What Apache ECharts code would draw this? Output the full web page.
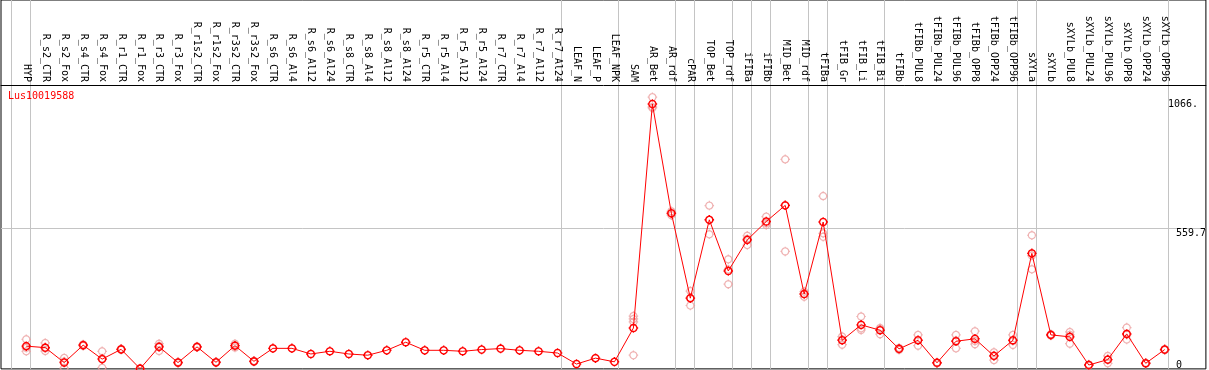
<!DOCTYPE html>
<html><head><meta charset="utf-8">
<script src="https://cdn.jsdelivr.net/npm/echarts@6/dist/echarts.min.js"></script>
<style>html,body{margin:0;padding:0;background:#fff}#c{width:1209px;height:370px}</style>
</head><body><div id="c"></div>
<script>
const geneName = 'Lus10019588';
const categories = ['HYP','R_s2_CTR','R_s2_Fox','R_s4_CTR','R_s4_Fox','R_r1_CTR','R_r1_Fox','R_r3_CTR','R_r3_Fox',
  'R_r1s2_CTR','R_r1s2_Fox','R_r3s2_CTR','R_r3s2_Fox','R_s6_CTR','R_s6_Al4','R_s6_Al12','R_s6_Al24',
  'R_s8_CTR','R_s8_Al4','R_s8_Al12','R_s8_Al24','R_r5_CTR','R_r5_Al4','R_r5_Al12','R_r5_Al24',
  'R_r7_CTR','R_r7_Al4','R_r7_Al12','R_r7_Al24','LEAF_N','LEAF_P','LEAF_NPK','SAM','AR_Bet','AR_rdf',
  'cPAR','TOP_Bet','TOP_rdf','iFIBa','iFIBb','MID_Bet','MID_rdf','tFIBa','tFIB_Gr','tFIB_Li','tFIB_Bi',
  'tFIBb','tFIBb_PUL8','tFIBb_PUL24','tFIBb_PUL96','tFIBb_OPP8','tFIBb_OPP24','tFIBb_OPP96',
  'sXYLa','sXYLb','sXYLb_PUL8','sXYLb_PUL24','sXYLb_PUL96','sXYLb_OPP8','sXYLb_OPP24','sXYLb_OPP96'];
const meanValues = [77,71,10,81,24,64,-15,74,10,74,11,79,15,68,68,45,56,45,40,60,93,60,60,56,63,67,60,56,49,
  4,28,13,151,1066,620,273,593,384,511,586,652,290,584,101,164,142,66,101,9,97,107,37,101,
  456,123,115,0,22,127,7,63];
const replicates = [
  [105,70,56],[90,68,57],[29,14,-13],[84,81,78],[56,27,-11],[66,64,62],[-13,-15,-15],[87,78,57],[12,10,8],
  [76,74,72],[13,11,9],[87,79,71],[17,15,13],[],[],[],[],[],[],[],[],[],[],[],[],[],[],[],[],
  [],[],[],[200,188,176,40],[1094,1054,1050],[628,618,612],[302,273,243],[651,593,534],[432,390,330],
  [528,515,490],[606,580,572],[840,652,464],[300,290,279],[690,538,524],[116,104,83],[198,150,143],
  [151,146,126],[70,66,62],[123,101,79],[11,9,7],[123,100,68],[138,98,85],[52,39,20],[123,98,82],
  [530,447,391],[126,123,120],[135,123,87],[2,0,-2],[37,22,7],[153,124,104],[9,7,5],[65,63,61]];
const groupEndsAfter = [-1,0,28,31,34,35,37,38,39,41,42,45,52,53,60];
const gridValue = 559.7;
const maxLabelValue = 1066;
const zeroLabelValue = 0;

const FONT = 'DejaVu Sans Mono';
const X_MIN = -1.331, X_MAX = 62.172;
const Y_MIN = -15.9, Y_MAX = 1490.8;
const SEP_OFFSET = 0.21;

// marker: circle with four short ticks (drawn in a 10x10 box)
function markerPath() {
  const c = 5, r = 3.7, n = 24;
  let d = 'M5,0L5,1.3M5,8.7L5,10M0,5L1.3,5M8.7,5L10,5';
  for (let k = 0; k <= n; k++) {
    const a = 2 * Math.PI * k / n;
    d += (k === 0 ? 'M' : 'L') + (c + r * Math.cos(a)).toFixed(3) + ',' + (c + r * Math.sin(a)).toFixed(3);
  }
  return 'path://' + d + 'Z';
}
const SYM = markerPath();

const repData = [];
replicates.forEach((arr, i) => arr.forEach(v => repData.push([i, v])));
const meanData = meanValues.map((v, i) => [i, v]);

const chart = echarts.init(document.getElementById('c'), null, {renderer: 'canvas'});
const lbl = {color: '#000', fontFamily: FONT, fontSize: 10};
chart.setOption({
  animation: false,
  backgroundColor: '#fff',
  title: {text: geneName, left: 8, top: 91, padding: 0,
    textStyle: {color: '#f00', fontSize: 10, fontFamily: FONT, fontWeight: 'normal'}},
  grid: {left: 1, right: 1, top: 0, bottom: 1, show: true, borderColor: '#000', borderWidth: 1, backgroundColor: '#fff'},
  xAxis: [
    {type: 'value', min: X_MIN, max: X_MAX, position: 'top', offset: -85,
     axisLine: {show: true, onZero: false, lineStyle: {color: '#000', width: 1}},
     axisTick: {show: false}, splitLine: {show: false},
     axisLabel: Object.assign({customValues: categories.map((_, i) => i),
       formatter: v => categories[Math.round(v)], rotate: 90, margin: 3}, lbl)},
    {type: 'value', min: X_MIN, max: X_MAX, position: 'bottom',
     axisLine: {show: false}, axisLabel: {show: false},
     axisTick: {show: false, customValues: groupEndsAfter.map(i => i + SEP_OFFSET)},
     splitLine: {show: true, lineStyle: {color: '#c4c4c4', width: 1}}}
  ],
  yAxis: [
    {type: 'value', min: Y_MIN, max: Y_MAX, position: 'right', offset: -38,
     axisLine: {show: false}, axisTick: {show: false, customValues: [gridValue]},
     splitLine: {show: true, lineStyle: {color: '#c4c4c4', width: 1}},
     axisLabel: Object.assign({customValues: [maxLabelValue], formatter: v => v + '.', margin: 0,
       align: 'left', verticalAlign: 'middle', padding: [0, 0, 4, 0]}, lbl)},
    {type: 'value', min: Y_MIN, max: Y_MAX, position: 'right', offset: -30,
     axisLine: {show: false}, axisTick: {show: false}, splitLine: {show: false},
     axisLabel: Object.assign({customValues: [gridValue], formatter: v => String(v), margin: 0,
       align: 'left', verticalAlign: 'top'}, lbl)},
    {type: 'value', min: Y_MIN, max: Y_MAX, position: 'right', offset: -30,
     axisLine: {show: false}, axisTick: {show: false}, splitLine: {show: false},
     axisLabel: Object.assign({customValues: [zeroLabelValue], formatter: v => String(v), margin: 0,
       align: 'left', verticalAlign: 'middle', padding: [0, 0, 5, 0]}, lbl)}
  ],
  series: [
    {type: 'scatter', xAxisIndex: 0, yAxisIndex: 0, data: repData, symbol: SYM, symbolSize: 9.5, z: 2,
     itemStyle: {color: 'rgba(0,0,0,0)', borderColor: '#eb9d9d', borderWidth: 1.2}},
    {type: 'line', xAxisIndex: 0, yAxisIndex: 0, data: meanData, symbol: SYM, symbolSize: 9.5, z: 3,
     showSymbol: true, lineStyle: {color: '#f00', width: 1},
     itemStyle: {color: 'rgba(0,0,0,0)', borderColor: '#f00', borderWidth: 1.4}}
  ]
});
</script></body></html>
